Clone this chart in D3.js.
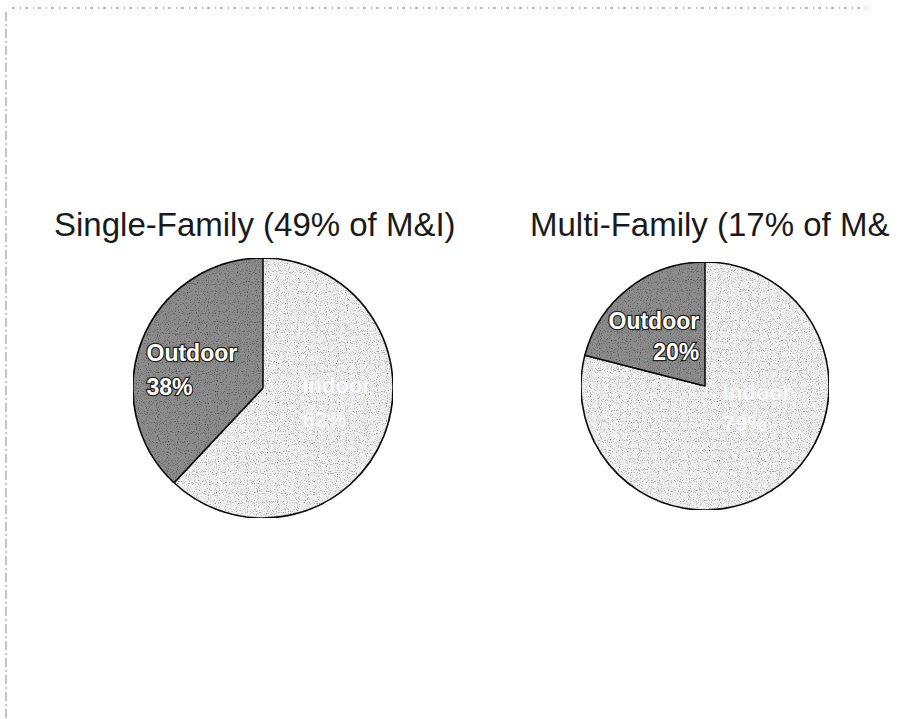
<!DOCTYPE html>
<html lang="en">
<head>
	<meta charset="utf-8">
	<title>Indoor vs Outdoor Water Use</title>
	<script src="https://cdn.jsdelivr.net/npm/d3@7/dist/d3.min.js"></script>
	<style>
		body { margin: 0; background: #ffffff; }
		svg { display: block; }
	</style>
</head>
<body>
<script>
	// Chart data
	var chartTitles = ["Single-Family (49% of M&I)", "Multi-Family (17% of M&I)"];
	var categories = ["Indoor", "Outdoor"];
	var singleFamily = [62, 38];
	var multiFamily = [79, 21];
	var pctLabels = [["62%", "38%"], ["79%", "20%"]];

	var width = 906, height = 719;

	var svg = d3.select("body")
				.append("svg")
				.attr("width", width)
				.attr("height", height);

	var defs = svg.append("defs");

	// the scan cuts the page off just before the right edge
	defs.append("clipPath").attr("id", "scanEdge")
		.append("rect").attr("x", 0).attr("y", 0).attr("width", 890).attr("height", height);

	// grain filter to mimic the scanned look
	var grain = defs.append("filter").attr("id", "grain")
		.attr("x", 0).attr("y", 0).attr("width", 1).attr("height", 1);
	grain.append("feTurbulence")
		.attr("type", "fractalNoise").attr("baseFrequency", 0.9)
		.attr("numOctaves", 1).attr("seed", 3).attr("result", "noise");
	grain.append("feColorMatrix").attr("in", "noise").attr("type", "matrix")
		.attr("values", "0 0 0 0 0  0 0 0 0 0  0 0 0 0 0  0 0 0 -2.6 1.25")
		.attr("result", "dots");
	grain.append("feComposite").attr("in", "dots").attr("in2", "SourceGraphic")
		.attr("operator", "in").attr("result", "dotsIn");
	grain.append("feMerge").selectAll("feMergeNode")
		.data(["SourceGraphic", "dotsIn"]).enter()
		.append("feMergeNode").attr("in", function(d) { return d; });

	// faint page frame left by the scan
	svg.append("line")
		.attr("x1", 12).attr("x2", 870).attr("y1", 8).attr("y2", 8)
		.attr("stroke", "#777").attr("stroke-width", 1)
		.attr("stroke-dasharray", "3,5,1,4");
	svg.append("line")
		.attr("x1", 6).attr("x2", 6).attr("y1", 12).attr("y2", 719)
		.attr("stroke", "#888").attr("stroke-width", 1)
		.attr("stroke-dasharray", "9,3,2,3");

	var colour = d3.scaleOrdinal()
				.domain(categories)
				.range(["#f1f1f1", "#8c8c8c"]);

	var pie = d3.pie()
				.sort(null)
				.value(function(d) { return d; });

	// layout for each pie: centre, radius, title x, label offsets from the arc centroid
	var charts = [
		{title: chartTitles[0], values: singleFamily, labels: pctLabels[0], cx: 263, cy: 388, r: 130, tx: 54,
		 lineGap: 34, place: [{anchor: "start", dx: -27, dy: -21}, {anchor: "start", dx: -50, dy: -1}]},
		{title: chartTitles[1], values: multiFamily, labels: pctLabels[1], cx: 705, cy: 386, r: 124, tx: 530,
		 lineGap: 31, place: [{anchor: "start", dx: -24, dy: -40}, {anchor: "end", dx: 36, dy: -3}]}
	];

	charts.forEach(function(c) {
		svg.append("text")
			.attr("x", c.tx)
			.attr("y", 236)
			.attr("clip-path", "url(#scanEdge)")
			.attr("font-family", "Liberation Sans, Arial, sans-serif")
			.attr("font-size", 33)
			.attr("fill", "#1a1a1a")
			.text(c.title);

		var g = svg.append("g")
				.attr("transform", "translate(" + c.cx + "," + c.cy + ")");

		var arc = d3.arc().innerRadius(0).outerRadius(c.r);
		var labelArc = d3.arc().innerRadius(c.r * 0.55).outerRadius(c.r * 0.55);

		g.selectAll("path")
			.data(pie(c.values))
			.enter()
			.append("path")
			.attr("d", arc)
			.attr("fill", function(d, i) { return colour(categories[i]); })
			.attr("filter", "url(#grain)")
			.attr("stroke", "#111")
			.attr("stroke-width", 1.6)
			.attr("stroke-linejoin", "round");

		// slice labels (the indoor ones are almost washed out in the original)
		var labels = g.selectAll("text.lbl")
			.data(pie(c.values))
			.enter()
			.append("text")
			.attr("class", "lbl")
			.attr("font-family", "Liberation Sans, Arial, sans-serif")
			.attr("font-weight", "bold")
			.attr("font-size", function(d, i) { return i == 1 ? 23 : 22; })
			.attr("paint-order", "stroke")
			.attr("fill", function(d, i) { return i == 1 ? "#ffffff" : "#f8f8f8"; })
			.attr("stroke", function(d, i) { return i == 1 ? "#222" : "#dcdcdc"; })
			.attr("stroke-width", function(d, i) { return i == 1 ? 2.5 : 0.7; })
			.attr("text-anchor", function(d, i) { return c.place[i].anchor; })
			.attr("transform", function(d, i) {
				var p = labelArc.centroid(d);
				return "translate(" + (p[0] + c.place[i].dx) + "," + (p[1] + c.place[i].dy) + ")";
			});

		labels.append("tspan")
			.attr("x", 0).attr("dy", 0)
			.text(function(d, i) { return categories[i]; });
		labels.append("tspan")
			.attr("x", 0)
			.attr("dy", c.lineGap)
			.text(function(d, i) { return c.labels[i]; });
	});
</script>
</body>
</html>
